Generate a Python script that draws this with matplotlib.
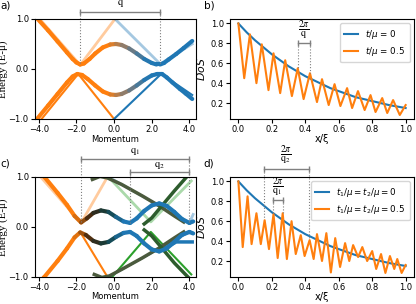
import matplotlib
matplotlib.use("Agg")
import matplotlib.pyplot as plt
import numpy as np
from matplotlib.collections import LineCollection
from matplotlib.colors import LinearSegmentedColormap

# ---- panel a: band structure, one coupling ----
a_up_x = [-4.3, -3.5, -3.0, -2.5, -2.2, -2.0, -1.8, -1.6, -1.3, -1.0, -0.6, -0.2, 0.1,
          0.4, 0.8, 1.2, 1.6, 2.0, 2.25, 2.45, 2.65, 2.9, 3.3, 3.7, 4.15]
a_up_y = [1.1, 0.77, 0.55, 0.33, 0.2, 0.13, 0.09, 0.11, 0.2, 0.31, 0.43, 0.49, 0.5,
          0.48, 0.41, 0.31, 0.2, 0.12, 0.09, 0.09, 0.12, 0.19, 0.3, 0.42, 0.56]
a_dn_x = [-4.2, -3.5, -3.0, -2.5, -2.2, -1.95, -1.7, -1.4, -1.0, -0.6, -0.2, 0.1, 0.4,
          0.8, 1.2, 1.6, 2.0, 2.3, 2.55, 2.8, 3.1, 3.5, 3.8, 4.15]
a_dn_y = [-1.05, -0.73, -0.5, -0.27, -0.15, -0.1, -0.12, -0.2, -0.33, -0.45, -0.51, -0.52, -0.5,
          -0.43, -0.33, -0.22, -0.13, -0.1, -0.1, -0.17, -0.27, -0.4, -0.49, -0.6]
a_faint_or_x = [-3.95, -1.8, 0.05]
a_faint_or_y = [1.0, 0.08, 1.0]
a_faint_bl_x = [0.05, 2.45, 4.15]
a_faint_bl_y = [1.0, 0.1, 0.5]
a_or_x = [-1.9, 0.0]
a_or_y = [-0.1, -1.0]
a_bl_x = [0.0, 2.5]
a_bl_y = [-1.0, -0.1]
a_fan_or_x = [-3.85, -1.95]
a_fan_or_y = [-1.0, -0.12]
a_fan_bl_x = [2.55, 4.15]
a_fan_bl_y = [-0.11, -0.52]
a_q = [-1.8, 2.45]

# ---- panel c: band structure, two couplings ----
c_up_x = [-4.3, -3.7, -3.0, -2.5, -2.1, -1.75, -1.45, -1.1, -0.7, -0.3, 0.1, 0.5, 0.85,
          1.2, 1.6, 2.0, 2.4, 2.8, 3.2, 3.6, 4.0, 4.2]
c_up_y = [1.25, 1.0, 0.68, 0.44, 0.22, 0.09, 0.17, 0.28, 0.33, 0.3, 0.2, 0.11, 0.08,
          0.17, 0.32, 0.43, 0.47, 0.42, 0.3, 0.16, 0.08, 0.11]
c_dn_x = [-4.2, -3.7, -3.0, -2.5, -2.1, -1.8, -1.5, -1.1, -0.7, -0.3, 0.1, 0.5, 0.85,
          1.2, 1.6, 2.0, 2.4, 2.8, 3.2, 3.6, 4.0, 4.2]
c_dn_y = [-1.2, -1.0, -0.68, -0.43, -0.21, -0.11, -0.16, -0.28, -0.33, -0.3, -0.2, -0.12, -0.1,
          -0.18, -0.33, -0.45, -0.49, -0.43, -0.3, -0.16, -0.1, -0.13]
c_faint_or_x = [-3.9, -1.75, -0.35]
c_faint_or_y = [1.0, 0.08, 1.0]
c_faint_bl_x = [-0.3, 4.0, 4.2]
c_faint_bl_y = [1.0, 0.08, 0.25]
c_faint_gr_x = [-0.3, 1.95, 4.1]
c_faint_gr_y = [1.0, 0.1, 0.92]
c_or_x = [-1.8, -0.35]
c_or_y = [-0.1, -1.0]
c_gr_x = [-0.1, 1.95, 4.1]
c_gr_y = [-1.0, -0.1, -0.95]
c_bl_x = [-0.3, 4.0]
c_bl_y = [-1.0, -0.1]
c_bl2_x = [2.6, 3.3, 4.15]
c_bl2_y = [-0.45, -0.3, -0.3]
c_olive_up_x = [-1.15, -0.75, -0.35, 0.4, 1.5, 2.4, 3.2, 3.7]
c_olive_up_y = [0.95, 1.01, 0.98, 0.85, 0.62, 0.42, 0.22, 0.1]
c_olive_dn_x = [-1.05, -0.65, -0.25, 0.4, 1.5, 2.4, 3.2, 3.7]
c_olive_dn_y = [-0.95, -1.01, -0.98, -0.85, -0.62, -0.42, -0.22, -0.1]
c_dkgr_up_x = [1.6, 2.0, 2.6, 3.2, 3.9]
c_dkgr_up_y = [0.06, 0.18, 0.45, 0.72, 1.02]
c_dkgr_dn_x = [1.6, 2.0, 2.6, 3.2, 4.05]
c_dkgr_dn_y = [-0.06, -0.18, -0.45, -0.72, -1.05]
c_q1 = [-1.75, 4.0]
c_q2 = [0.85, 4.0]

# ---- panel b: DoS ----
dos_x = [0.0, 0.05, 0.1, 0.15, 0.2, 0.25, 0.3, 0.35, 0.4, 0.45, 0.5, 0.55, 0.6, 0.65,
         0.7, 0.75, 0.8, 0.85, 0.9, 0.95, 1.0]
dos_bare = [1.0, 0.91, 0.83, 0.76, 0.69, 0.63, 0.57, 0.52, 0.47, 0.43, 0.39, 0.35, 0.32, 0.29,
            0.26, 0.24, 0.22, 0.2, 0.18, 0.165, 0.15]
b_osc_x = [0.0, 0.035, 0.069, 0.108, 0.14, 0.18, 0.21, 0.25, 0.28, 0.32, 0.355, 0.39, 0.428,
           0.47, 0.5, 0.54, 0.575, 0.61, 0.65, 0.68, 0.715, 0.755, 0.79, 0.82, 0.86, 0.89,
           0.925, 0.965, 1.0]
b_osc_y = [1.0, 0.45, 0.89, 0.4, 0.79, 0.33, 0.7, 0.3, 0.63, 0.27, 0.55, 0.24, 0.5,
           0.21, 0.44, 0.18, 0.39, 0.17, 0.35, 0.15, 0.32, 0.13, 0.28, 0.11, 0.25, 0.1,
           0.23, 0.08, 0.18]
b_q = [0.359, 0.428]

# ---- panel d: DoS, two couplings ----
d_osc_x = [0.0, 0.026, 0.055, 0.079, 0.108, 0.134, 0.157, 0.183, 0.21, 0.235, 0.265, 0.29,
           0.318, 0.343, 0.373, 0.396, 0.426, 0.45, 0.47, 0.5, 0.526, 0.553, 0.579, 0.608,
           0.638, 0.663, 0.686, 0.716, 0.741, 0.77, 0.8, 0.824, 0.853, 0.879, 0.906,
           0.932, 0.95, 0.976, 1.0]
d_osc_y = [1.0, 0.34, 0.85, 0.37, 0.68, 0.37, 0.61, 0.32, 0.67, 0.23, 0.68, 0.22,
           0.6, 0.27, 0.46, 0.25, 0.41, 0.22, 0.47, 0.2, 0.48, 0.085, 0.43, 0.14,
           0.38, 0.2, 0.36, 0.24, 0.34, 0.2, 0.3, 0.12, 0.27, 0.08, 0.25,
           0.12, 0.22, 0.08, 0.16]
d_q1 = [0.206, 0.265]
d_q2 = [0.153, 0.42]

ORANGE = "#ff7f0e"
BLUE = "#1f77b4"
GREEN = "#2ca02c"
OLIVE = "#4b5a3d"
DKGREEN = "#2d5c2d"
GREY = "#808080"

plt.rcParams["font.size"] = 6
plt.rcParams["xtick.labelsize"] = 6
plt.rcParams["ytick.labelsize"] = 6
plt.rcParams["axes.linewidth"] = 0.8

fig = plt.figure(figsize=(4.16, 3.04), dpi=100)
ax_a = fig.add_axes([0.0841, 0.6086, 0.387, 0.329])
ax_b = fig.add_axes([0.5529, 0.6086, 0.4423, 0.329])
ax_c = fig.add_axes([0.0841, 0.089, 0.387, 0.329])
ax_d = fig.add_axes([0.5529, 0.089, 0.4423, 0.329])


def gradient_line(ax, x, y, cmap, lo, hi, lw=3.0):
    pts = np.column_stack([x, y]).reshape(-1, 1, 2)
    segs = np.concatenate([pts[:-1], pts[1:]], axis=1)
    mids = (np.asarray(x[:-1]) + np.asarray(x[1:])) / 2
    lc = LineCollection(segs, cmap=cmap, norm=plt.Normalize(lo, hi), lw=lw,
                        capstyle="round", joinstyle="round")
    lc.set_array(mids)
    ax.add_collection(lc)


def bracket(ax, xs, y, label, ty, fs=7.5):
    ax.plot(xs, [y, y], color=GREY, lw=1, marker="|", ms=5, mew=1, clip_on=False)
    ax.text(np.mean(xs), ty, label, ha="center", va="center", fontsize=fs,
            math_fontfamily="stix", clip_on=False)


def dotted(ax, x, y0, y1):
    ax.plot([x, x], [y0, y1], color=GREY, lw=0.8, ls=":", clip_on=False)


def band_axes(ax, letter, xlab_y):
    ax.set_xlim(-4.2, 4.35)
    ax.set_ylim(-1, 1)
    ax.set_xticks([-4, -2, 0, 2, 4])
    ax.set_xticklabels(["\u22124.0", "\u22122.0", "0.0", "2.0", "4.0"])
    ax.set_yticks([-1, 0, 1])
    ax.set_yticklabels(["\u22121.0", "0.0", "1.0"])
    ax.set_xlabel("Momentum", fontsize=6)
    ax.set_ylabel("Energy (E-\u03bc)", fontsize=7.8, family="Liberation Serif")
    ax.xaxis.set_label_coords(0.5, xlab_y)
    ax.yaxis.set_label_coords(-0.165, 0.5)
    ax.tick_params(pad=1.5, length=3)
    fig.text(0.0, ax.get_position().y1 + 0.045, letter, fontsize=7.5, va="center")


def dos_axes(ax, letter):
    ax.set_xlim(-0.05, 1.05)
    ax.set_ylim(0.04, 1.045)
    ax.set_xticks([0, 0.2, 0.4, 0.6, 0.8, 1.0])
    ax.set_yticks([0.2, 0.4, 0.6, 0.8, 1.0])
    ax.set_xlabel("x/\u03be", fontsize=7)
    ax.set_ylabel("$DoS$", fontsize=7.8)
    ax.xaxis.set_label_coords(0.5, -0.15)
    ax.yaxis.set_label_coords(-0.125, 0.5)
    ax.tick_params(pad=1.5, length=3)
    fig.text(0.49, ax.get_position().y1 + 0.045, letter, fontsize=7.5, va="center")


# panel a
cmap_a = LinearSegmentedColormap.from_list("a", [ORANGE, ORANGE, "#7f7b78", BLUE, BLUE])
ax_a.plot(a_faint_or_x, a_faint_or_y, color=ORANGE, alpha=0.4, lw=2)
ax_a.plot(a_faint_bl_x, a_faint_bl_y, color=BLUE, alpha=0.4, lw=2)
ax_a.plot(a_or_x, a_or_y, color=ORANGE, lw=1.5)
ax_a.plot(a_bl_x, a_bl_y, color=BLUE, lw=1.5)
ax_a.plot(a_fan_or_x, a_fan_or_y, color=ORANGE, lw=1.5)
ax_a.plot(a_fan_bl_x, a_fan_bl_y, color=BLUE, lw=1.5)
gradient_line(ax_a, a_up_x, a_up_y, cmap_a, -1.5, 3.0)
gradient_line(ax_a, a_dn_x, a_dn_y, cmap_a, -1.5, 3.0)
band_axes(ax_a, "a)", -0.165)
bracket(ax_a, a_q, 1.146, r"$\mathrm{q}$", 1.3)
dotted(ax_a, a_q[0], 1.146, 0.08)
dotted(ax_a, a_q[1], 1.146, 0.08)

# panel c
cmap_c = LinearSegmentedColormap.from_list("c", [ORANGE, ORANGE, "#3a2410", "#14403f", BLUE, BLUE])
ax_c.plot(c_faint_or_x, c_faint_or_y, color=ORANGE, alpha=0.4, lw=2)
ax_c.plot(c_faint_bl_x, c_faint_bl_y, color=BLUE, alpha=0.4, lw=2)
ax_c.plot(c_faint_gr_x, c_faint_gr_y, color=GREEN, alpha=0.4, lw=2)
ax_c.plot(c_or_x, c_or_y, color=ORANGE, lw=1.5)
ax_c.plot(c_gr_x, c_gr_y, color=GREEN, lw=1.5)
ax_c.plot(c_bl_x, c_bl_y, color=BLUE, lw=1.5)
ax_c.plot(c_bl2_x, c_bl2_y, color=BLUE, lw=2.5)
ax_c.plot(c_olive_up_x, c_olive_up_y, color=OLIVE, lw=2.5)
ax_c.plot(c_olive_dn_x, c_olive_dn_y, color=OLIVE, lw=2.5)
ax_c.plot(c_dkgr_up_x, c_dkgr_up_y, color=DKGREEN, lw=2.5)
ax_c.plot(c_dkgr_dn_x, c_dkgr_dn_y, color=DKGREEN, lw=2.5)
gradient_line(ax_c, c_up_x, c_up_y, cmap_c, -3.0, 1.5)
gradient_line(ax_c, c_dn_x, c_dn_y, cmap_c, -3.0, 1.5)
band_axes(ax_c, "c)", -0.155)
bracket(ax_c, c_q1, 1.354, r"$\mathrm{q}_1$", 1.5)
bracket(ax_c, c_q2, 1.09, r"$\mathrm{q}_2$", 1.23)
dotted(ax_c, c_q1[0], 1.354, 0.08)
dotted(ax_c, c_q2[0], 1.09, 0.08)
dotted(ax_c, c_q2[1], 1.354, 0.08)

# panel b
ax_b.plot(dos_x, dos_bare, color=BLUE, lw=1.5, label=r"$t/\mu$ = 0")
ax_b.plot(b_osc_x, b_osc_y, color=ORANGE, lw=1.5, label=r"$t/\mu$ = 0.5")
dos_axes(ax_b, "b)")
ax_b.legend(loc="upper right", fontsize=6.3, handlelength=1.6, borderpad=0.5)
bracket(ax_b, b_q, 0.8, r"$\frac{2\pi}{\mathrm{q}}$", 0.93, fs=10)
dotted(ax_b, b_q[0], 0.8, 0.55)
dotted(ax_b, b_q[1], 0.8, 0.5)

# panel d
ax_d.plot(dos_x, dos_bare, color=BLUE, lw=1.5, label=r"$t_1/\mu=t_2/\mu=0$")
ax_d.plot(d_osc_x, d_osc_y, color=ORANGE, lw=1.5, label=r"$t_1/\mu=t_2/\mu=0.5$")
dos_axes(ax_d, "d)")
ax_d.legend(loc="upper right", fontsize=6.3, handlelength=1.6, borderpad=0.5)
bracket(ax_d, d_q2, 1.12, r"$\frac{2\pi}{\mathrm{q}_2}$", 1.27, fs=10)
bracket(ax_d, d_q1, 0.81, r"$\frac{2\pi}{\mathrm{q}_1}$", 0.94, fs=10)
dotted(ax_d, d_q2[0], 1.12, 0.62)
dotted(ax_d, d_q2[1], 1.12, 0.42)
dotted(ax_d, d_q1[0], 0.81, 0.67)
dotted(ax_d, d_q1[1], 0.81, 0.68)

fig.savefig("out.png", dpi=100)
